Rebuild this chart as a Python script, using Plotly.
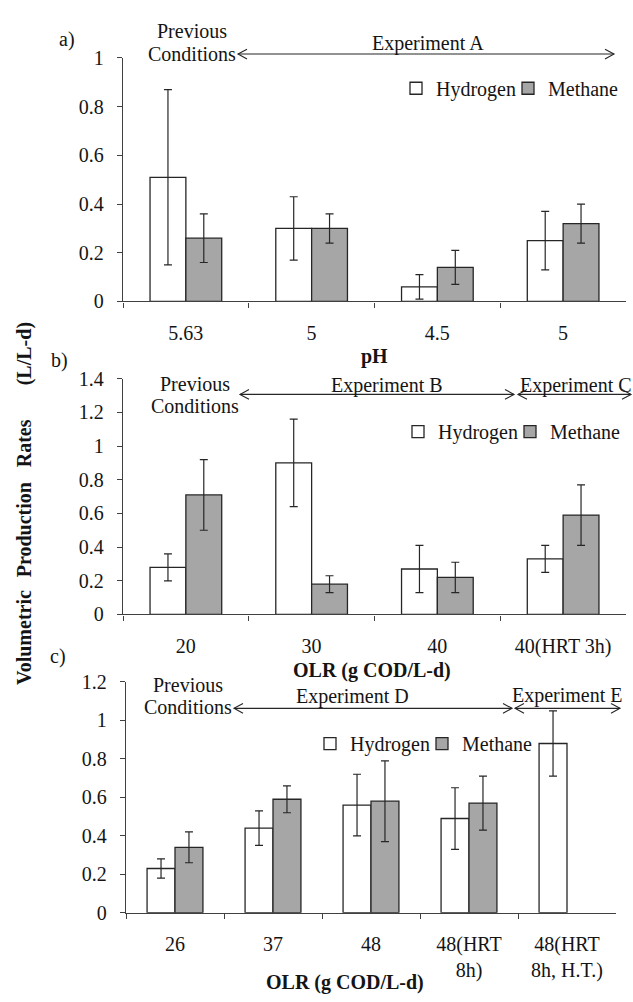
import plotly.graph_objects as go

W, H = 633, 1002
FONT = "Liberation Serif"
EDGE = "#262626"
GRAY = "#a6a6a6"
TXT = "#141414"
FS = 20

# ---------------- data ----------------
a_labels = ["5.63", "5", "4.5", "5"]
a_h = [0.51, 0.30, 0.06, 0.25]
a_h_err = [0.36, 0.13, 0.05, 0.12]
a_m = [0.26, 0.30, 0.14, 0.32]
a_m_err = [0.10, 0.06, 0.07, 0.08]

b_labels = ["20", "30", "40", "40(HRT 3h)"]
b_h = [0.28, 0.90, 0.27, 0.33]
b_h_err = [0.08, 0.26, 0.14, 0.08]
b_m = [0.71, 0.18, 0.22, 0.59]
b_m_err = [0.21, 0.05, 0.09, 0.18]

c_labels = ["26", "37", "48", "48(HRT<br>8h)", "48(HRT<br>8h, H.T.)"]
c_h = [0.23, 0.44, 0.56, 0.49, 0.88]
c_h_err = [0.05, 0.09, 0.16, 0.16, 0.17]
c_m = [0.34, 0.59, 0.58, 0.57, None]
c_m_err = [0.08, 0.07, 0.21, 0.14, None]


def X(px):
    return px / W


def Y(py):
    return 1 - py / H


panels = [
    # name, labels, h, herr, m, merr, x-domain px, y-domain px (bottom, top), ymax
    ("a", a_labels, a_h, a_h_err, a_m, a_m_err, (123, 626), (297, 48), 1.0),
    ("b", b_labels, b_h, b_h_err, b_m, b_m_err, (123, 626), (617, 376), 1.4),
    ("c", c_labels, c_h, c_h_err, c_m, c_m_err, (126, 616), (922, 686), 1.2),
]

fig = go.Figure()
legend_pos = {
    # legend text start x px, y px (hydrogen, methane)
    "a": ((437, 79), (549, 79)),
    "b": ((439, 430), (551, 430)),
    "c": ((351, 749), (463, 749)),
}

lg_index = 1
layout_legends = {}
for i, (name, labels, h, herr, m, merr, xd, yd, ymax) in enumerate(panels):
    n = i + 1
    xa = "x" if n == 1 else f"x{n}"
    ya = "y" if n == 1 else f"y{n}"
    keys = [f"{name}{k}" for k in range(len(labels))]
    for series, vals, errs, fill in (("Hydrogen", h, herr, "white"), ("Methane", m, merr, GRAY)):
        lname = "legend" if lg_index == 1 else f"legend{lg_index}"
        fig.add_trace(go.Bar(
            x=keys, y=vals, name=series, xaxis=xa, yaxis=ya,
            marker=dict(color=fill, line=dict(color=EDGE, width=1.3)),
            error_y=dict(type="data", array=errs, symmetric=True, color=EDGE,
                         thickness=1.2, width=4),
            legend=lname, showlegend=True,
        ))
        idx = 0 if series == "Hydrogen" else 1
        tx, ty = legend_pos[name][idx]
        layout_legends[lname] = dict(
            x=X(tx - 41), y=Y(ty), xanchor="left", yanchor="middle",
            bgcolor="rgba(0,0,0,0)", borderwidth=0,
            font=dict(family=FONT, size=FS, color=TXT),
            itemwidth=30,
        )
        lg_index += 1

    axname_x = "xaxis" if n == 1 else f"xaxis{n}"
    axname_y = "yaxis" if n == 1 else f"yaxis{n}"
    fig.update_layout(**{
        axname_x: dict(
            domain=[X(xd[0]), X(xd[1])], anchor=ya, type="category",
            categoryorder="array", categoryarray=keys,
            tickmode="array", tickvals=keys, ticktext=labels,
            tickson="boundaries", ticks="outside", ticklen=5, tickwidth=1.3,
            tickcolor="#404040", showline=True, linecolor="#404040", linewidth=1.4,
            showgrid=False, zeroline=False, ticklabelstandoff=13,
            tickfont=dict(family=FONT, size=FS, color=TXT),
            range=[-0.5, len(labels) - 0.5],
        ),
        axname_y: dict(
            domain=[Y(yd[0]), Y(yd[1])], anchor=xa, range=[0, ymax], dtick=0.2,
            ticks="outside", ticklen=5, tickwidth=1.3, tickcolor="#404040",
            showline=True, linecolor="#404040", linewidth=1.4,
            showgrid=False, zeroline=False, ticklabelstandoff=9,
            tickfont=dict(family=FONT, size=FS, color=TXT),
        ),
    })

fig.update_layout(**layout_legends)

annotations = []
shapes = []


def text(x, y, s, size=FS, bold=False, angle=0, xanchor="center"):
    if bold:
        s = f"<b>{s}</b>"
    annotations.append(dict(
        x=X(x), y=Y(y), xref="paper", yref="paper", text=s, showarrow=False,
        xanchor=xanchor, yanchor="middle", textangle=angle,
        font=dict(family=FONT, size=size, color=TXT),
    ))


def double_arrow(x1, x2, y, head=9, half=5):
    line = dict(color="#262626", width=1.1)
    shapes.append(dict(type="line", xref="paper", yref="paper",
                       x0=X(x1), x1=X(x2), y0=Y(y), y1=Y(y), line=line))
    shapes.append(dict(type="path", xref="paper", yref="paper", line=line,
                       path=f"M{X(x1 + head)},{Y(y - half)} L{X(x1)},{Y(y)} L{X(x1 + head)},{Y(y + half)}"))
    shapes.append(dict(type="path", xref="paper", yref="paper", line=line,
                       path=f"M{X(x2 - head)},{Y(y - half)} L{X(x2)},{Y(y)} L{X(x2 - head)},{Y(y + half)}"))


# panel labels
text(67, 29, "a)")
text(60, 357, "b)")
text(58, 660, "c)")

# panel a annotations
text(192, 20, "Previous")
text(192, 44, "Conditions")
text(428, 33, "Experiment A")
double_arrow(238, 614, 44)

# panel b
text(195, 381, "Previous")
text(195, 404, "Conditions")
text(387, 383, "Experiment B")
double_arrow(240, 514, 392)
text(518, 383, "Experiment C", xanchor="left")
double_arrow(518, 631, 392)

# panel c
text(188, 689, "Previous")
text(188, 712, "Conditions")
text(352, 701, "Experiment D")
double_arrow(234, 512, 713)
text(510, 700, "Experiment E", xanchor="left")
double_arrow(515, 620, 713)

# axis titles
text(374, 353, "pH", bold=True)
text(372, 674, "OLR (g COD/L-d)", bold=True)
text(345, 993, "OLR (g COD/L-d)", bold=True)

# y title (spread words)
text(24, 351, "(L/L-d)", bold=True, angle=-90)
text(24, 442, "Rates", bold=True, angle=-90)
text(24, 531, "Production", bold=True, angle=-90)
text(24, 641, "Volumetric", bold=True, angle=-90)

fig.update_layout(
    width=W, height=H, margin=dict(l=0, r=0, t=0, b=0),
    paper_bgcolor="white", plot_bgcolor="white",
    barmode="group", bargap=0.43, bargroupgap=0,
    annotations=annotations, shapes=shapes,
    font=dict(family=FONT, size=FS, color=TXT),
)

fig.write_html("out.html")
